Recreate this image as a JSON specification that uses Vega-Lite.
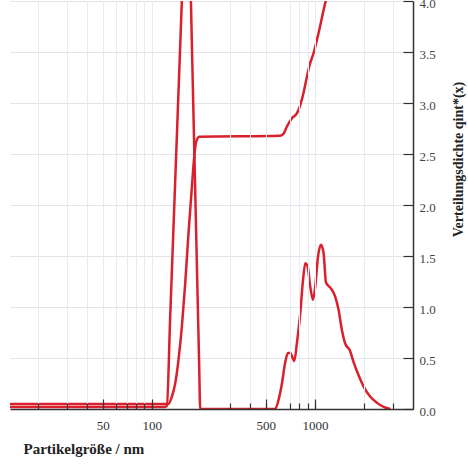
{
  "$schema": "https://vega.github.io/schema/vega-lite/v6.json",
  "width": 403,
  "height": 408,
  "autosize": {"type": "none"},
  "padding": {"left": 10, "top": 1, "right": 55, "bottom": 55},
  "background": "white",
  "config": {
    "view": {"stroke": null},
    "axis": {"labelFont": "Liberation Serif", "titleFont": "Liberation Serif"}
  },
  "datasets": {
    "density": [
      {"size": 13.5, "q": 0.02},
      {"size": 120, "q": 0.02},
      {"size": 123.6, "q": 0.03},
      {"size": 129.5, "q": 0.9},
      {"size": 139, "q": 2.23},
      {"size": 149.2, "q": 3.56},
      {"size": 155.6, "q": 4.35},
      {"size": 160.1, "q": 4.85},
      {"size": 164.7, "q": 5.25},
      {"size": 168.2, "q": 4.95},
      {"size": 173.5, "q": 4.01},
      {"size": 179.2, "q": 3.02},
      {"size": 184.4, "q": 2.14},
      {"size": 189.7, "q": 1.27},
      {"size": 195, "q": 0.43},
      {"size": 197.9, "q": 0},
      {"size": 570.7, "q": 0},
      {"size": 597.9, "q": 0.09},
      {"size": 627.4, "q": 0.25},
      {"size": 657.5, "q": 0.46},
      {"size": 683, "q": 0.55},
      {"size": 705.6, "q": 0.55},
      {"size": 746.5, "q": 0.47},
      {"size": 775.6, "q": 0.65},
      {"size": 812.6, "q": 0.94},
      {"size": 844.2, "q": 1.26},
      {"size": 872, "q": 1.43},
      {"size": 900.8, "q": 1.4},
      {"size": 935.8, "q": 1.2},
      {"size": 972.1, "q": 1.07},
      {"size": 1004, "q": 1.2},
      {"size": 1043, "q": 1.49},
      {"size": 1088, "q": 1.61},
      {"size": 1129, "q": 1.53},
      {"size": 1168, "q": 1.24},
      {"size": 1241, "q": 1.19},
      {"size": 1332, "q": 1.1},
      {"size": 1396, "q": 0.97},
      {"size": 1464, "q": 0.77},
      {"size": 1534, "q": 0.64},
      {"size": 1631, "q": 0.58},
      {"size": 1725, "q": 0.46},
      {"size": 1851, "q": 0.33},
      {"size": 1987, "q": 0.22},
      {"size": 2185, "q": 0.12},
      {"size": 2402, "q": 0.06},
      {"size": 2636, "q": 0.02},
      {"size": 2897, "q": 0}
    ],
    "cumulative": [
      {"size": 13.5, "q": 0.05},
      {"size": 126.4, "q": 0.05},
      {"size": 132.6, "q": 0.12},
      {"size": 139, "q": 0.25},
      {"size": 145.6, "q": 0.48},
      {"size": 152.8, "q": 0.81},
      {"size": 160.1, "q": 1.23},
      {"size": 167.7, "q": 1.72},
      {"size": 176, "q": 2.18},
      {"size": 181.8, "q": 2.47},
      {"size": 187, "q": 2.62},
      {"size": 195.1, "q": 2.67},
      {"size": 612.4, "q": 2.68},
      {"size": 641.9, "q": 2.7},
      {"size": 673.3, "q": 2.77},
      {"size": 722.6, "q": 2.85},
      {"size": 775.6, "q": 2.9},
      {"size": 812.6, "q": 2.98},
      {"size": 851.1, "q": 3.1},
      {"size": 893.2, "q": 3.26},
      {"size": 926.6, "q": 3.37},
      {"size": 980.4, "q": 3.49},
      {"size": 1028.7, "q": 3.62},
      {"size": 1077.7, "q": 3.76},
      {"size": 1129, "q": 3.91},
      {"size": 1168, "q": 4.01},
      {"size": 1241, "q": 4.21}
    ]
  },
  "layer": [
    {
      "data": {"name": "density"},
      "mark": {"type": "line", "color": "#d9202c", "strokeWidth": 2.5, "clip": true, "interpolate": "monotone"},
      "encoding": {
        "x": {
          "field": "size", "type": "quantitative",
          "scale": {"type": "log", "domain": [13.5, 3990], "nice": false},
          "axis": {
            "orient": "bottom",
            "values": [50, 100, 500, 1000],
            "format": "d",
            "tickSize": -10, "tickColor": "#333", "tickWidth": 1.2,
            "domain": true, "domainColor": "#333", "domainWidth": 1.5,
            "grid": false,
            "labelFontSize": 13, "labelColor": "#333", "labelPadding": 20,
            "labelFlush": false, "labelOverlap": false,
            "title": "Partikelgröße / nm",
            "titleFontSize": 15, "titleFontWeight": "bold", "titleColor": "#222",
            "titleAnchor": "start", "titleAlign": "left", "titleBaseline": "middle",
            "titleX": 13, "titleY": 39,
            "zindex": 1
          }
        },
        "y": {
          "field": "q", "type": "quantitative",
          "scale": {"domain": [0, 4], "nice": false, "zero": false},
          "axis": {
            "orient": "right",
            "values": [0, 0.25, 0.5, 0.75, 1, 1.25, 1.5, 1.75, 2, 2.25, 2.5, 2.75, 3, 3.25, 3.5, 3.75, 4],
            "labelExpr": "datum.value % 0.5 === 0 ? format(datum.value, '.1f') : ''",
            "tickSize": -10, "tickColor": "#333", "tickWidth": 1.2,
            "domainColor": "#333", "domainWidth": 1.5,
            "grid": true, "gridColor": "#e3e5ea",
            "labelFontSize": 13, "labelColor": "#444", "labelPadding": 16,
            "labelOffset": 2,
            "labelFlush": false, "labelOverlap": false,
            "title": "Verteilungsdichte qint*(x)",
            "titleAngle": 270, "titleFontSize": 14, "titleFontWeight": "bold", "titleColor": "#222",
            "titleAlign": "center", "titleBaseline": "middle",
            "titleX": 45, "titleY": 158
          }
        }
      }
    },
    {
      "data": {"name": "cumulative"},
      "mark": {"type": "line", "color": "#d9202c", "strokeWidth": 2.5, "clip": true, "interpolate": "monotone"},
      "encoding": {
        "x": {
          "field": "size", "type": "quantitative",
          "axis": {
            "orient": "bottom",
            "values": [20, 30, 40, 50, 60, 70, 80, 90, 100, 300, 400, 500, 700, 800, 900, 1000, 2000, 3000],
            "labels": false,
            "tickSize": -6, "tickColor": "#333", "tickWidth": 1.2,
            "domain": false,
            "grid": true, "gridColor": "#e9ebf0",
            "title": null,
            "zindex": 1
          }
        },
        "y": {"field": "q", "type": "quantitative"}
      }
    }
  ],
  "resolve": {"axis": {"x": "independent"}}
}
